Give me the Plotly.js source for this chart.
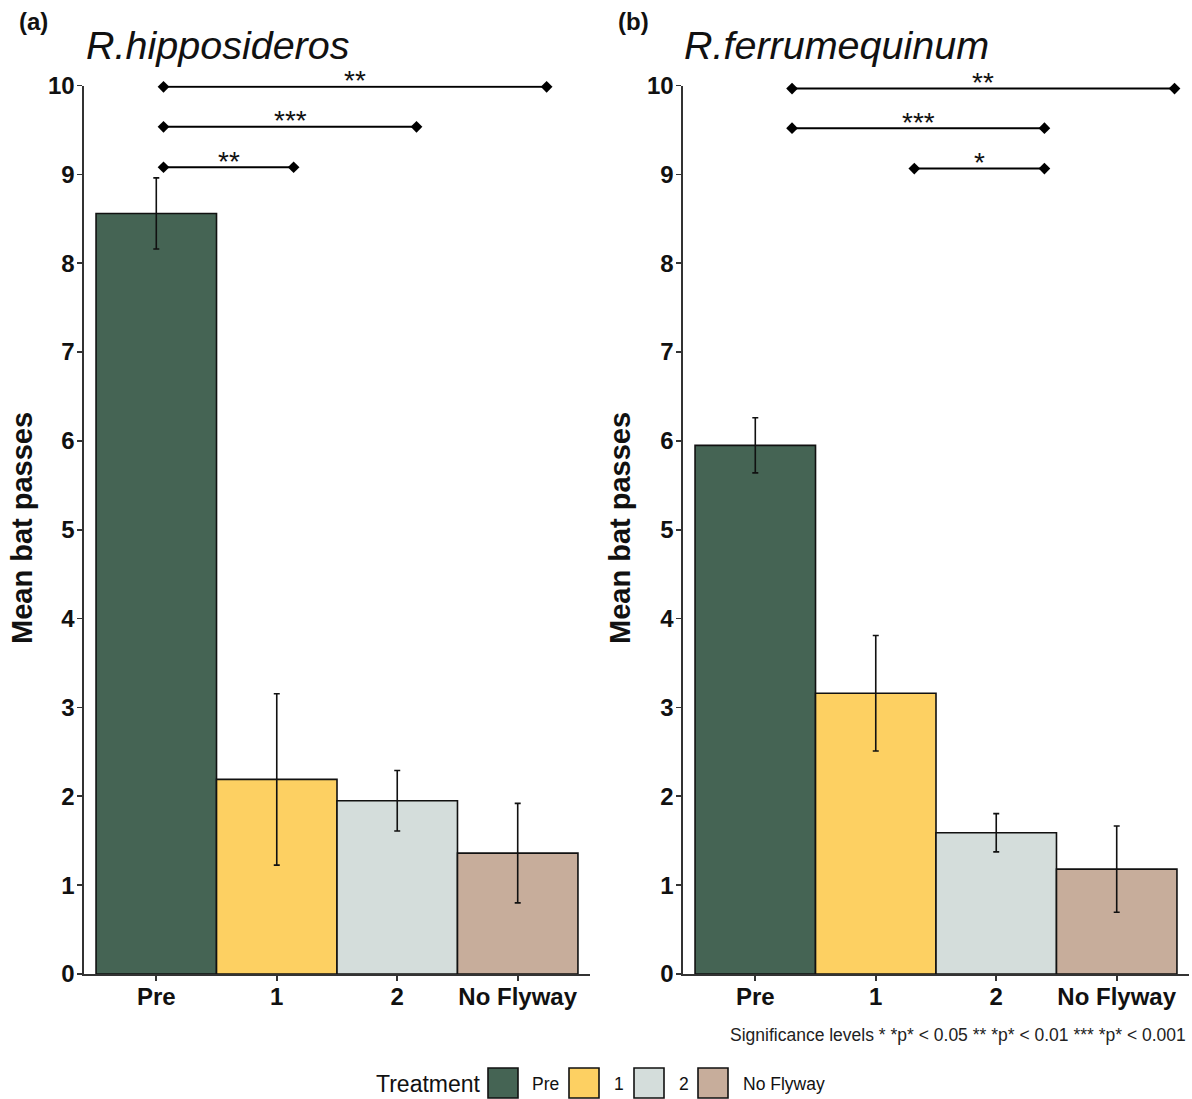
<!DOCTYPE html>
<html>
<head>
<meta charset="utf-8">
<script src="https://cdn.plot.ly/plotly-3.0.1.min.js"></script>
<style>
  html, body { margin: 0; padding: 0; background: #ffffff; }
  #chart { width: 1192px; height: 1099px; }
</style>
</head>
<body>
<div id="chart"></div>
<script>
// Treatment categories and mean bat passes (± SE) for each species
const categories = ['Pre', '1', '2', 'No Flyway'];
const catPos = [0, 1, 2, 3];
const hippoMean = [8.56, 2.19, 1.95, 1.36];
const hippoSE = [0.40, 0.965, 0.34, 0.56];
const ferrumMean = [5.95, 3.16, 1.59, 1.18];
const ferrumSE = [0.31, 0.65, 0.215, 0.485];
const barColors = ['#456454', '#FDD062', '#D4DDDB', '#C7AD9B'];
const yTicks = [0, 1, 2, 3, 4, 5, 6, 7, 8, 9, 10];

// Pairwise comparison brackets: start, end, height and significance label
const hippoSigStart = [0.06, 0.06, 0.06];
const hippoSigEnd = [3.24, 2.16, 1.14];
const hippoSigY = [9.985, 9.535, 9.08];
const hippoSigLabel = ['**', '***', '**'];
const ferrumSigStart = [0.305, 0.305, 1.32];
const ferrumSigEnd = [3.48, 2.40, 2.40];
const ferrumSigY = [9.965, 9.52, 9.065];
const ferrumSigLabel = ['**', '***', '*'];

const W = 1192, H = 1099;
const px = v => v / W;
const py = v => 1 - v / H;

const SANS = '"Liberation Sans", Arial, sans-serif';
const AXIS_COL = '#333333';

function barTrace(means, se, xa, ya) {
  return {
    type: 'bar', x: catPos, y: means, width: 1, xaxis: xa, yaxis: ya,
    marker: { color: barColors, line: { color: '#111111', width: 1.6 } },
    error_y: { type: 'data', array: se, visible: true, color: '#111111', thickness: 1.6, width: 3 },
    showlegend: false, hoverinfo: 'skip'
  };
}

function bracketTraces(starts, ends, ys, xa, ya) {
  return starts.map((s, i) => ({
    type: 'scatter', mode: 'lines+markers', x: [s, ends[i]], y: [ys[i], ys[i]],
    xaxis: xa, yaxis: ya,
    line: { color: '#000000', width: 2 },
    marker: { symbol: 'diamond', size: 9, color: '#000000' },
    showlegend: false, hoverinfo: 'skip', cliponaxis: false
  }));
}

function starAnnotations(starts, ends, ys, labels, xa, ya) {
  return labels.map((t, i) => ({
    xref: xa, yref: ya, x: (starts[i] + ends[i]) / 2, y: ys[i],
    text: t, showarrow: false, xanchor: 'center', yanchor: 'middle', yshift: 6,
    font: { family: SANS, size: 28, color: '#111111' }
  }));
}

function xAxis(domain) {
  return {
    domain: domain, range: [-0.6, 3.6], tickmode: 'array', tickvals: catPos, ticktext: categories,
    showline: true, linecolor: AXIS_COL, linewidth: 1.6, ticks: 'outside', ticklen: 5,
    tickwidth: 1.6, tickcolor: AXIS_COL, showgrid: false, zeroline: false, fixedrange: true,
    ticklabelstandoff: -4,
    tickfont: { family: SANS, size: 24, weight: 700, color: '#111111' }
  };
}

function yAxis(anchor) {
  return {
    domain: [1 - 974 / H, 1 - 85.5 / H], range: [0, 10], tickmode: 'array', tickvals: yTicks,
    anchor: anchor,
    showline: true, linecolor: AXIS_COL, linewidth: 1.6, ticks: 'outside', ticklen: 5,
    tickwidth: 1.6, tickcolor: AXIS_COL, showgrid: false, zeroline: false, fixedrange: true,
    ticklabelstandoff: -2,
    tickfont: { family: SANS, size: 24, weight: 700, color: '#111111' }
  };
}

const data = [
  barTrace(hippoMean, hippoSE, 'x', 'y'),
  barTrace(ferrumMean, ferrumSE, 'x2', 'y2'),
  ...bracketTraces(hippoSigStart, hippoSigEnd, hippoSigY, 'x', 'y'),
  ...bracketTraces(ferrumSigStart, ferrumSigEnd, ferrumSigY, 'x2', 'y2')
];

// Legend keys drawn in page space
const legendBoxX = [488, 569, 634, 698];
const legendLabelX = [530, 612, 677, 741];
const legendShapes = categories.map((c, i) => ({
  type: 'rect', xref: 'paper', yref: 'paper',
  x0: px(legendBoxX[i]), x1: px(legendBoxX[i] + 30), y0: py(1098), y1: py(1068),
  fillcolor: barColors[i], line: { color: '#111111', width: 1.6 }
}));
const legendLabels = categories.map((c, i) => ({
  xref: 'paper', yref: 'paper', x: px(legendLabelX[i]), y: py(1084),
  xanchor: 'left', yanchor: 'middle', text: c, showarrow: false,
  font: { family: SANS, size: 17.5, color: '#111111' }
}));

const annotations = [
  ...starAnnotations(hippoSigStart, hippoSigEnd, hippoSigY, hippoSigLabel, 'x', 'y'),
  ...starAnnotations(ferrumSigStart, ferrumSigEnd, ferrumSigY, ferrumSigLabel, 'x2', 'y2'),
  { xref: 'paper', yref: 'paper', x: px(17), y: py(22), xanchor: 'left', yanchor: 'middle',
    text: '(a)', showarrow: false, font: { family: SANS, size: 24, weight: 700, color: '#111111' } },
  { xref: 'paper', yref: 'paper', x: px(616), y: py(22), xanchor: 'left', yanchor: 'middle',
    text: '(b)', showarrow: false, font: { family: SANS, size: 24, weight: 700, color: '#111111' } },
  { xref: 'paper', yref: 'paper', x: px(84), y: py(45), xanchor: 'left', yanchor: 'middle',
    text: 'R.hipposideros', showarrow: false, font: { family: SANS, size: 39.5, style: 'italic', color: '#111111' } },
  { xref: 'paper', yref: 'paper', x: px(682), y: py(45), xanchor: 'left', yanchor: 'middle',
    text: 'R.ferrumequinum', showarrow: false, font: { family: SANS, size: 39.5, style: 'italic', color: '#111111' } },
  { xref: 'paper', yref: 'paper', x: px(22), y: py(528), xanchor: 'center', yanchor: 'middle',
    text: 'Mean bat passes', textangle: -90, showarrow: false,
    font: { family: SANS, size: 29, weight: 700, color: '#111111' } },
  { xref: 'paper', yref: 'paper', x: px(620), y: py(528), xanchor: 'center', yanchor: 'middle',
    text: 'Mean bat passes', textangle: -90, showarrow: false,
    font: { family: SANS, size: 29, weight: 700, color: '#111111' } },
  { xref: 'paper', yref: 'paper', x: px(1188), y: py(1035), xanchor: 'right', yanchor: 'middle',
    text: 'Significance levels * *p* < 0.05 ** *p* < 0.01 *** *p* < 0.001', showarrow: false,
    font: { family: SANS, size: 17.5, color: '#222222' } },
  { xref: 'paper', yref: 'paper', x: px(483), y: py(1084), xanchor: 'right', yanchor: 'middle',
    text: 'Treatment', showarrow: false, font: { family: SANS, size: 23, color: '#111111' } },
  ...legendLabels
];

const layout = {
  width: W, height: H,
  margin: { l: 0, r: 0, t: 0, b: 0 },
  paper_bgcolor: '#ffffff', plot_bgcolor: '#ffffff',
  showlegend: false, bargap: 0,
  xaxis: xAxis([px(84), px(590)]),
  yaxis: yAxis('x'),
  xaxis2: xAxis([px(683), px(1189)]),
  yaxis2: yAxis('x2'),
  annotations: annotations,
  shapes: legendShapes
};

Plotly.newPlot('chart', data, layout, { displayModeBar: false, staticPlot: true });
</script>
</body>
</html>
